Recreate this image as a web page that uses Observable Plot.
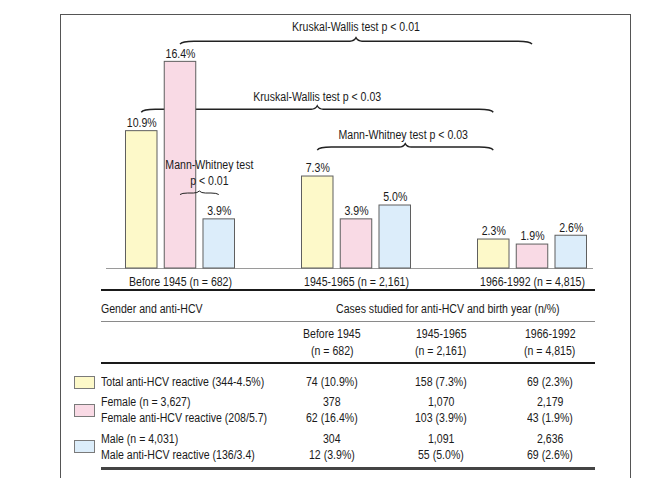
<!DOCTYPE html>
<html><head><meta charset="utf-8">
<script src="https://cdn.jsdelivr.net/npm/d3@7"></script>
<script src="https://cdn.jsdelivr.net/npm/@observablehq/plot@0.6"></script>
<style>
html,body{margin:0;padding:0;background:#fff;}
body{width:656px;height:478px;position:relative;overflow:hidden;font-family:"Liberation Sans",Arial,Helvetica,sans-serif;font-size:12px;color:#1a1a1a;}
#frame{position:absolute;left:60px;top:14px;width:571px;height:470px;border:1.5px solid #555;border-bottom:none;box-sizing:border-box;}
#chart{position:absolute;left:0;top:0;}
.t{position:absolute;white-space:nowrap;line-height:14px;height:14px;transform-origin:0 50%;}
.hl{position:absolute;left:101px;width:494px;}
.sw{position:absolute;left:74px;width:21px;height:13px;border:1px solid #7a7a7a;box-sizing:border-box;}
</style></head><body>
<div id="frame"></div>
<div id="chart"></div>
<div id="table"></div>
<script>
// ---- chart data ----
const groups = ["Before 1945", "1945-1965", "1966-1992"];
const groupN = ["682", "2,161", "4,815"];
const series = ["Total", "Female", "Male"];
const totalPct = [10.9, 7.3, 2.3];
const femalePct = [16.4, 3.9, 1.9];
const malePct = [3.9, 5.0, 2.6];
const seriesColors = ["#fdf9c9", "#f9dae5", "#dcedfa"];

// ---- annotation data (brace from [group, series] to [group, series], level in %) ----
const braceLabels = [["Kruskal-Wallis test p < 0.01"], ["Kruskal-Wallis test p < 0.03"], ["Mann-Whitney test p < 0.03"], ["Mann-Whitney test", "p < 0.01"]];
const braceFrom = [["Before 1945", "Female"], ["Before 1945", "Total"], ["1945-1965", "Total"], ["Before 1945", "Female"]];
const braceTo = [["1966-1992", "Female"], ["1966-1992", "Total"], ["1966-1992", "Total"], ["Before 1945", "Male"]];
const braceLevel = [18.0, 12.6, 9.6, 5.95];

// ---- table data ----
const tableHeadLeft = "Gender and anti-HCV";
const tableHeadRight = "Cases studied for anti-HCV and birth year (n/%)";
const rowLabels = [["Total anti-HCV reactive (344-4.5%)"], ["Female (n = 3,627)", "Female anti-HCV reactive (208/5.7)"], ["Male (n = 4,031)", "Male anti-HCV reactive (136/3.4)"]];
const totalCells = ["74 (10.9%)", "158 (7.3%)", "69 (2.3%)"];
const femaleN = ["378", "1,070", "2,179"];
const femaleCells = ["62 (16.4%)", "103 (3.9%)", "43 (1.9%)"];
const maleN = ["304", "1,091", "2,636"];
const maleCells = ["12 (3.9%)", "55 (5.0%)", "69 (2.6%)"];

const FONT = '"Liberation Sans",Arial,Helvetica,sans-serif';
const FS = 12;
const SQUEEZE = 0.88; // the original typeface is a condensed sans
const pctBySeries = [totalPct, femalePct, malePct];
const data = groups.flatMap((g, i) => series.map((s, j) => ({group: g, series: s, value: pctBySeries[j][i]})));
const off = {Total: -38.75, Female: 0, Male: 38.75};

const marks = [Plot.ruleY([0], {stroke: "#9a9a9a", strokeWidth: 1})];
series.forEach((s, j) => {
  const sub = data.filter(d => d.series === s);
  marks.push(Plot.barY(sub, {x: "group", y: "value", fill: seriesColors[j], stroke: "#5f5f5f", strokeWidth: 1, dx: off[s]}));
});
series.forEach((s) => {
  const sub = data.filter(d => d.series === s);
  marks.push(Plot.text(sub, {x: "group", y: "value", text: d => d.value.toFixed(1) + "%", dx: off[s], dy: -8, fontSize: FS, fill: "#1a1a1a"}));
});
marks.push(Plot.text(groups.map((g, i) => ({g, label: `${g} (n = ${groupN[i]})`})), {x: "g", y: d => 0, text: "label", dy: 14, fontSize: FS, fill: "#1a1a1a"}));

const plot = Plot.plot({
  width: 656, height: 295,
  marginLeft: 106, marginRight: 63, marginTop: 16, marginBottom: 27,
  x: {type: "band", domain: groups, paddingInner: 0.82102, paddingOuter: 0.29401, align: 0.5628, round: false, axis: null},
  y: {domain: [0, 20], axis: null},
  style: {fontFamily: FONT, fontSize: FS + "px", background: "transparent", overflow: "visible"},
  marks
});
document.getElementById("chart").appendChild(plot);

// scales from Plot
const sx = plot.scale("x"), sy = plot.scale("y");
const xApply = sx.apply ? (v => sx.apply(v)) : (d3.scaleBand().domain(sx.domain).range(sx.range).paddingInner(sx.paddingInner).paddingOuter(sx.paddingOuter).align(sx.align));
const yApply = sy.apply ? (v => sy.apply(v)) : d3.scaleLinear().domain(sy.domain).range(sy.range);
const bw = sx.bandwidth;
const X = ([g, s]) => xApply(g) + bw / 2 + off[s];

function bracePath(x1, x2, y, tip, peak) {
  const m = (x1 + x2) / 2;
  const c = Math.min(14, (x2 - x1) / 5);
  return `M${x1},${y + tip} Q${x1 + 2},${y} ${x1 + c},${y} L${m - 6},${y} Q${m - 2},${y} ${m},${y - peak} Q${m + 2},${y} ${m + 6},${y} L${x2 - c},${y} Q${x2 - 2},${y} ${x2},${y + tip}`;
}
const svg = d3.select(plot);
const firstBar = plot.querySelector('g[aria-label="bar"]');
const labelGap = [14, 12, 12, 12];
const labelShift = [0, 0, -2, 10];
braceLabels.forEach((lab, i) => {
  const x1 = X(braceFrom[i]), x2 = X(braceTo[i]);
  const y = yApply(braceLevel[i]);
  const small = (x2 - x1) < 80;
  const p = document.createElementNS("http://www.w3.org/2000/svg", "path");
  p.setAttribute("d", bracePath(x1, x2, y, small ? 1.5 : 3, small ? 2 : 3.5));
  p.setAttribute("fill", "none");
  p.setAttribute("stroke", "#222");
  p.setAttribute("stroke-width", small ? 1 : 1.4);
  if (i < 2) plot.insertBefore(p, firstBar); else plot.appendChild(p);
  const t = svg.append("text")
    .attr("x", (x1 + x2) / 2 + labelShift[i])
    .attr("text-anchor", "middle")
    .attr("font-size", FS).attr("fill", "#1a1a1a");
  lab.forEach((line, k) => {
    t.append("tspan").attr("x", (x1 + x2) / 2 + labelShift[i])
      .attr("y", y - labelGap[i] - (lab.length - 1 - k) * 16)
      .attr("dy", "0.35em").text(line);
  });
});

// condense SVG text horizontally
plot.querySelectorAll("text").forEach(t => {
  const spans = t.querySelectorAll("tspan");
  const items = spans.length ? Array.from(spans) : [t];
  items.forEach(el => {
    const w = el.getComputedTextLength();
    if (w > 0) {
      el.setAttribute("textLength", (w * SQUEEZE).toFixed(2));
      el.setAttribute("lengthAdjust", "spacingAndGlyphs");
    }
  });
});

// ---- table ----
const tbl = document.getElementById("table");
function put(text, x, y, anchor) {
  const d = document.createElement("div");
  d.className = "t";
  d.textContent = text;
  d.style.top = (y - 7) + "px";
  d.style.left = x + "px";
  tbl.appendChild(d);
  if (anchor === "middle") {
    const w = d.getBoundingClientRect().width * SQUEEZE;
    d.style.left = (x - w / 2) + "px";
  }
  d.style.transform = `scaleX(${SQUEEZE})`;
}
function hline(y, h, color) {
  const d = document.createElement("div");
  d.className = "hl";
  d.style.top = y + "px"; d.style.height = h + "px"; d.style.background = color;
  tbl.appendChild(d);
}
function swatch(y, color) {
  const d = document.createElement("div");
  d.className = "sw";
  d.style.top = y + "px"; d.style.background = color;
  tbl.appendChild(d);
}
const colX = [332, 441, 550];
hline(289, 2, "#1a1a1a");
put(tableHeadLeft, 101, 309);
put(tableHeadRight, 448, 309, "middle");
hline(321, 1, "#8a8a8a");
groups.forEach((g, i) => { put(g, colX[i], 334, "middle"); put(`(n = ${groupN[i]})`, colX[i], 351, "middle"); });
hline(362, 2, "#1a1a1a");
swatch(376, seriesColors[0]);
put(rowLabels[0][0], 101, 382);
totalCells.forEach((c, i) => put(c, colX[i], 382, "middle"));
swatch(404, seriesColors[1]);
put(rowLabels[1][0], 101, 402); put(rowLabels[1][1], 101, 418);
femaleN.forEach((c, i) => put(c, colX[i], 402, "middle"));
femaleCells.forEach((c, i) => put(c, colX[i], 418, "middle"));
swatch(440, seriesColors[2]);
put(rowLabels[2][0], 101, 439); put(rowLabels[2][1], 101, 455);
maleN.forEach((c, i) => put(c, colX[i], 439, "middle"));
maleCells.forEach((c, i) => put(c, colX[i], 455, "middle"));
hline(467, 2.5, "#444");
</script>
</body></html>
